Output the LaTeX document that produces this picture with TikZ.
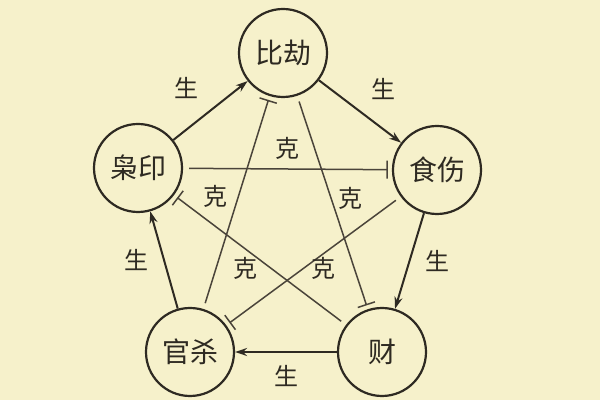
\documentclass[tikz,border=0pt]{standalone}
\usepackage{fontspec}
\setmainfont{Noto Sans CJK SC}
\usetikzlibrary{arrows.meta}
\definecolor{paper}{HTML}{F6F1CB}
\definecolor{ink}{HTML}{2E2A22}
\definecolor{keline}{HTML}{4A443A}
\begin{document}
\begin{tikzpicture}[x=0.5pt,y=-0.5pt,
		wuxing/.style={circle, draw=ink, line width=1.1pt, fill=paper, minimum size=44pt, inner sep=0pt, font=\fontsize{14}{14}\selectfont, text=ink},
		sheng/.style={-{Stealth[length=6pt,width=4pt]}, line width=1pt, draw=ink},
		ke/.style={-{Bar[width=9pt]}, draw=keline, line width=0.75pt, shorten <=3pt, shorten >=2pt},
		lbl/.style={font=\fontsize{12}{12}\selectfont, text=ink},
	]
		\fill[paper] (0,0) rectangle (600,400);
		\useasboundingbox (0,0) rectangle (600,400);
		%Nodes
		\node[wuxing] (bijie) at (283,53) {比劫};
		\node[wuxing] (shishang) at (437,170) {食伤};
		\node[wuxing] (cai) at (382,352) {财};
		\node[wuxing] (guansha) at (190,352) {官杀};
		\node[wuxing] (xiaoyin) at (138,168) {枭印};

		%Ke lines
		\draw[ke] (xiaoyin) -- (shishang) node[lbl, midway, above=1pt] {克};
		\draw[ke] (guansha) -- (bijie);
		\draw[ke] (bijie) -- (cai);
		\draw[ke] (shishang) -- (guansha);
		\draw[ke] (cai) -- (xiaoyin);
		\node[lbl] (ke1) at (215,196) {克};
		\node[lbl] (ke2) at (350,198) {克};
		\node[lbl] (ke3) at (245,268) {克};
		\node[lbl] (ke4) at (323,268) {克};

		%Sheng arrows
		\draw[sheng] (xiaoyin) -- (bijie) node[lbl, midway, above left=2pt] {生};
		\draw[sheng] (bijie) -- (shishang) node[lbl, midway, above right=2pt] {生};
		\draw[sheng] (shishang) -- (cai) node[lbl, midway, right=4pt] {生};
		\draw[sheng] (cai) -- (guansha) node[lbl, midway, below=3pt] {生};
		\draw[sheng] (guansha) -- (xiaoyin) node[lbl, midway, left=4pt] {生};
	\end{tikzpicture}
\end{document}
